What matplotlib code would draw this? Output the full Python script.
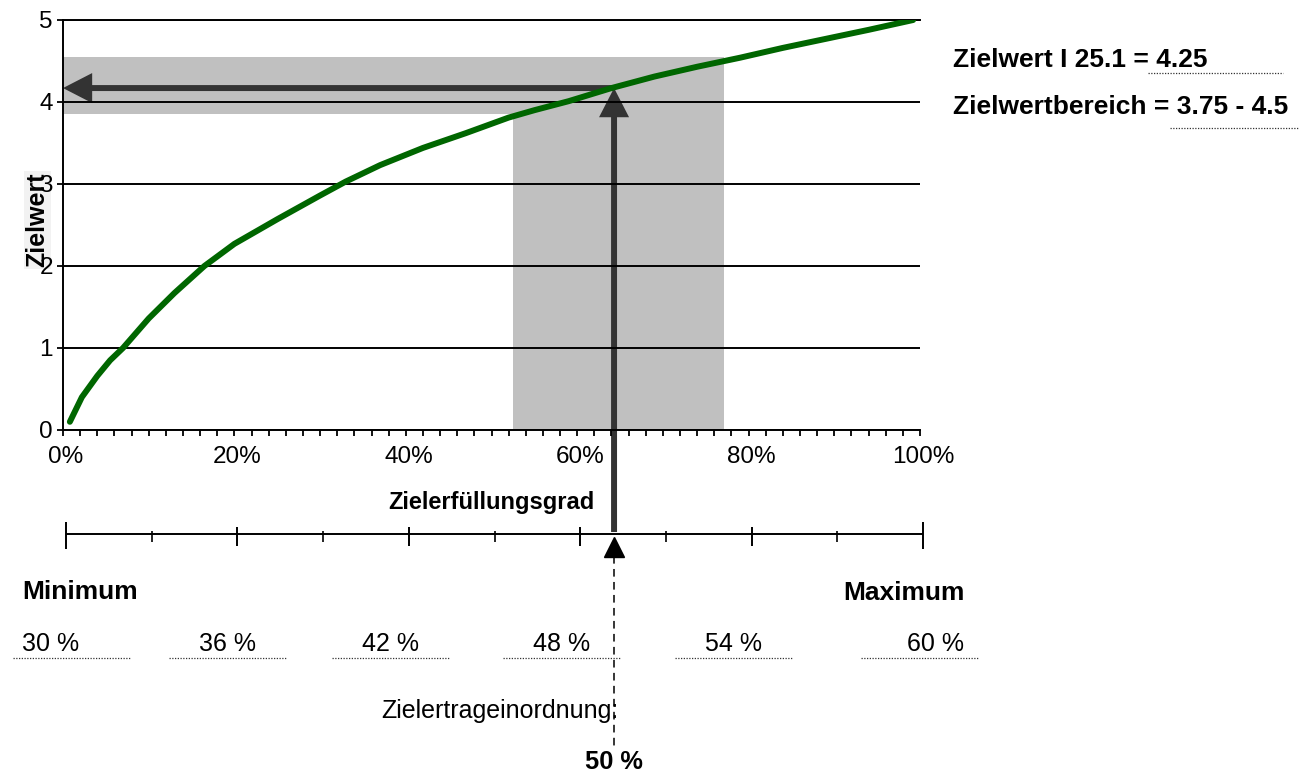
import matplotlib
matplotlib.use('Agg')
import matplotlib.pyplot as plt
import numpy as np
from matplotlib.lines import Line2D
from matplotlib.transforms import blended_transform_factory, ScaledTranslation

plt.rcParams['font.family'] = ['Liberation Sans', 'DejaVu Sans']

# curve Zielerfuellungsgrad (%) -> Zielwert
grad = [0.8, 2.2, 4.0, 5.5, 7, 10, 13, 16.5, 20, 25, 30, 33, 37, 42, 47, 52, 55, 59,
        64, 69, 74, 79, 84, 89, 94, 99.2]
zielwert = [0.1, 0.4, 0.66, 0.85, 1.0, 1.36, 1.67, 2.0, 2.27, 2.57, 2.86, 3.03, 3.23,
            3.44, 3.62, 3.81, 3.9, 4.01, 4.17, 4.31, 4.43, 4.54, 4.66, 4.77, 4.88, 5.0]
x_ticks = [0, 20, 40, 60, 80, 100]
y_ticks = [0, 1, 2, 3, 4, 5]

band_x = (52.5, 77.1)
band_y = (3.85, 4.55)
target_grad = 64.3
target_wert = 4.17

scale_values = [30, 36, 42, 48, 54, 60]
scale_minor = [33, 39, 45, 51, 57]
scale_labels = ['30 %', '36 %', '42 %', '48 %', '54 %', '60 %']
result_label = '50 %'
indicator = '25.1'
zielwert_txt = '4.25'
bereich = ('3.75', '4.5')

W, H = 1308, 776
def fx(px):
    return px / W
def fy(py):
    return 1 - py / H

fig = plt.figure(figsize=(W / 100, H / 100), dpi=100)
ax = fig.add_axes([fx(63), fy(430), (920 - 63) / W, (430 - 20) / H])
ax.set_xlim(0, 100)
ax.set_ylim(0, 5)

grey = '#c0c0c0'
ax.fill_between([0, band_x[1]], band_y[0], band_y[1], color=grey, lw=0, zorder=0)
ax.fill_between([band_x[0], band_x[1]], 0, band_y[1], color=grey, lw=0, zorder=0)

ax.set_yticks(y_ticks)
ax.grid(axis='y', color='black', lw=1.4, zorder=1)
ax.set_axisbelow(False)
ax.set_xticks(x_ticks)
ax.set_xticklabels([f'{v}%' for v in x_ticks])
ax.set_xticks(np.arange(0, 101, 2), minor=True)
for s in ['left', 'bottom', 'top']:
    ax.spines[s].set_linewidth(1.4)
ax.spines['right'].set_visible(False)
ax.tick_params(axis='x', which='both', direction='out', length=4.3, width=1.3,
               labelsize=17.5, pad=7)
ax.tick_params(axis='y', direction='out', length=4.3, width=1.3, labelsize=17.5, pad=3)
off = ScaledTranslation(3 / 100, 0, fig.dpi_scale_trans)
for lbl in ax.get_xticklabels():
    lbl.set_transform(lbl.get_transform() + off)

ax.plot(grad, zielwert, color='#006600', lw=4.3, solid_capstyle='round',
        solid_joinstyle='round', zorder=3)

trans = blended_transform_factory(ax.transData, fig.transFigure)
arrow = dict(width=4.3, headwidth=21.6, headlength=21, facecolor='#333333',
             edgecolor='none', shrink=0)
ax.annotate('', xy=(target_grad, target_wert), xycoords='data',
            xytext=(target_grad, fy(532)), textcoords=trans,
            arrowprops=arrow, annotation_clip=False, zorder=2)
ax.annotate('', xy=(0, target_wert), xytext=(target_grad, target_wert),
            arrowprops=arrow, annotation_clip=False, zorder=2)

ax.plot([target_grad], [fy(547)], marker='^', ms=14, color='black',
        transform=trans, clip_on=False)
ax.plot([target_grad, target_grad], [fy(556), fy(748)], transform=trans,
        color='black', lw=1.1, dashes=(5, 3.5), clip_on=False)

fig.text(fx(491), fy(502), 'Zielerfüllungsgrad', fontsize=17, fontweight='bold',
         ha='center', va='center')
fig.text(fx(37), fy(220), 'Zielwert', fontsize=18, fontweight='bold', rotation=90,
         ha='center', va='center', zorder=-1,
         bbox=dict(facecolor='#f2f2f2', edgecolor='none', pad=1))

# scale below
ax_s = fig.add_axes([fx(66), fy(549), (923 - 66) / W, 27 / H])
ax_s.set_xlim(scale_values[0], scale_values[-1])
ax_s.set_ylim(0, 1)
ax_s.axis('off')
ax_s.hlines(0.556, scale_values[0], scale_values[-1], color='black', lw=1.4, clip_on=False)
ax_s.vlines([scale_values[0], scale_values[-1]], 0, 1, color='black', lw=1.4, clip_on=False)
ax_s.vlines(scale_values[1:-1], 0.11, 0.81, color='black', lw=1.4)
ax_s.vlines(scale_minor, 0.26, 0.67, color='black', lw=1.2)


def underline(x0, x1, y):
    fig.add_artist(Line2D([fx(x0), fx(x1)], [fy(y), fy(y)], transform=fig.transFigure,
                          color='#333333', lw=0.9, dashes=(1, 1.2)))


box_left = [13, 169, 332, 503, 675, 861]
box_w = 117
for i, (bx, lab) in enumerate(zip(box_left, scale_labels)):
    if i == 0:
        fig.text(fx(22), fy(644), lab, fontsize=18, ha='left', va='center')
    elif i == len(scale_labels) - 1:
        fig.text(fx(964), fy(644), lab, fontsize=18, ha='right', va='center')
    else:
        fig.text(fx(bx + box_w / 2), fy(644), lab, fontsize=18, ha='center', va='center')
    underline(bx, bx + box_w, 658)

fig.text(fx(22), fy(592), 'Minimum', fontsize=19, fontweight='bold', va='center')
fig.text(fx(965), fy(593), 'Maximum', fontsize=19, fontweight='bold', ha='right',
         va='center')
fig.text(fx(618), fy(711), 'Zielertrageinordnung:', fontsize=18, ha='right', va='center')
fig.text(fx(614), fy(762), result_label, fontsize=18.3, fontweight='bold',
         ha='center', va='center')

fig.text(fx(953), fy(60), f'Zielwert I {indicator} = {zielwert_txt}', fontsize=19,
         fontweight='bold', va='center')
underline(1148, 1283, 73)
fig.text(fx(953), fy(107), f'Zielwertbereich = {bereich[0]} - {bereich[1]}', fontsize=19,
         fontweight='bold', va='center')
underline(1170, 1298, 128)

fig.savefig('out.png', dpi=100)
